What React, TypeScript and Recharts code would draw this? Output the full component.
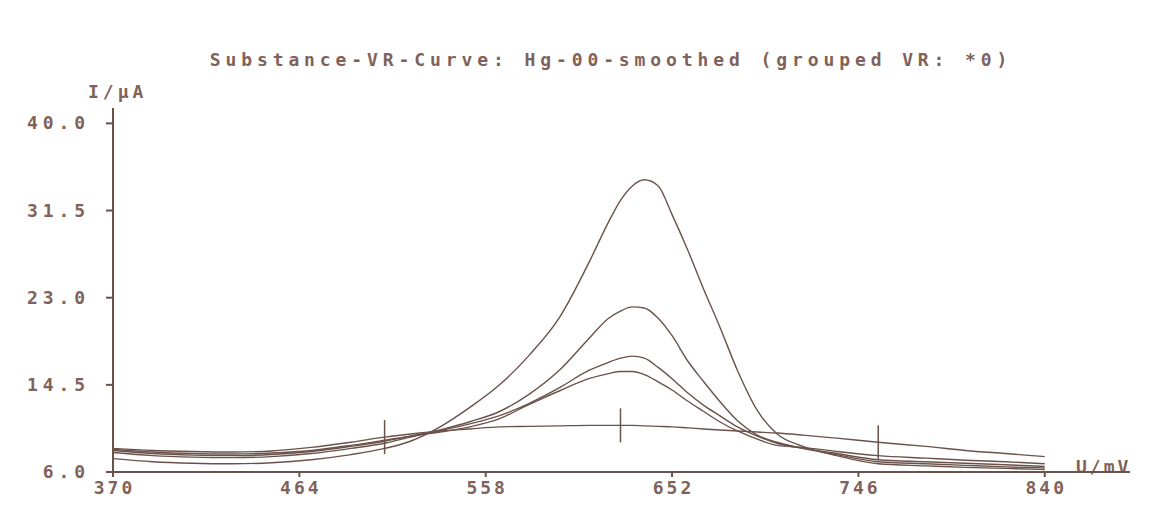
import React from 'react';
import { LineChart, Line, XAxis, YAxis } from 'recharts';

// potentials (mV) shared by all curves
const voltages = [370, 390, 410, 430, 450, 470, 490, 507, 520, 535, 550, 565, 580, 595, 610, 620, 626, 632, 638, 645, 652, 660, 668, 676, 685, 695, 705, 718, 735, 756, 780, 800, 820, 840];

// currents (µA), one array per recorded curve
const curveA = [7.3, 7.0, 6.85, 6.8, 6.9, 7.2, 7.7, 8.3, 9.0, 10.4, 12.3, 14.5, 17.4, 21.0, 26.4, 30.4, 32.5, 33.9, 34.5, 33.9, 31.1, 27.6, 23.8, 20.2, 15.9, 12.0, 9.7, 8.5, 7.6, 6.8, 6.6, 6.45, 6.35, 6.25];
const curveB = [7.9, 7.6, 7.45, 7.4, 7.5, 7.8, 8.3, 8.8, 9.4, 10.1, 10.9, 11.9, 13.6, 15.9, 19.0, 21.0, 21.7, 22.1, 22.0, 21.0, 19.3, 16.8, 14.8, 12.9, 11.0, 9.6, 8.9, 8.3, 7.7, 7.0, 6.8, 6.65, 6.5, 6.4];
const curveC = [8.1, 7.8, 7.65, 7.6, 7.7, 8.0, 8.5, 9.0, 9.5, 10.05, 10.7, 11.5, 12.7, 14.2, 15.9, 16.7, 17.1, 17.3, 17.1, 16.2, 15.1, 13.7, 12.5, 11.5, 10.4, 9.5, 8.8, 8.3, 7.8, 7.2, 7.0, 6.85, 6.7, 6.55];
const curveD = [8.2, 7.95, 7.8, 7.75, 7.85, 8.1, 8.6, 9.1, 9.5, 9.9, 10.4, 11.2, 12.6, 13.9, 15.1, 15.6, 15.8, 15.8, 15.5, 14.8, 14.0, 12.9, 11.9, 10.9, 10.0, 9.2, 8.6, 8.4, 8.0, 7.6, 7.35, 7.15, 7.0, 6.8];
const curveE = [8.3, 8.1, 8.0, 7.95, 8.05, 8.4, 8.9, 9.4, 9.7, 10.0, 10.2, 10.4, 10.45, 10.5, 10.55, 10.55, 10.55, 10.55, 10.5, 10.45, 10.4, 10.3, 10.2, 10.1, 10.0, 9.9, 9.8, 9.6, 9.3, 8.9, 8.5, 8.1, 7.8, 7.5];

// evaluation markers on the flat curve
const markers = [507, 626, 756];

const xTicks = [370, 464, 558, 652, 746, 840];
const yTicks = [6.0, 14.5, 23.0, 31.5, 40.0];

const rows = voltages.map((u, i) => ({
  u,
  a: curveA[i],
  b: curveB[i],
  c: curveC[i],
  d: curveD[i],
  e: curveE[i],
}));

const INK = '#6a524b';
const TEXT = '#80625a';
const font = { fontFamily: '"DejaVu Sans Mono", monospace', fontWeight: 700, fontSize: 18, letterSpacing: 4.9 };

const XTick = (props: any) => {
  const { x, y, payload } = props;
  return (
    <text x={x + 1.5} y={y} dy={13} textAnchor="middle" fill={TEXT} style={{ ...font, letterSpacing: 3 }}>
      {payload.value}
    </text>
  );
};

const YTick = (props: any) => {
  const { x, y, payload } = props;
  return (
    <text x={x + 4} y={y} dy={6} textAnchor="end" fill={TEXT} style={font}>
      {Number(payload.value).toFixed(1)}
    </text>
  );
};

const MarkerDot = (props: any) => {
  const { cx, cy, payload, index } = props;
  if (cx === undefined || cy === undefined || !markers.includes(payload.u)) {
    return <g key={`m-${index}`} />;
  }
  return <line key={`m-${index}`} x1={cx} x2={cx} y1={cy - 17} y2={cy + 17} stroke={INK} strokeWidth={1.5} />;
};

export default function App() {
  return (
    <div style={{ margin: -8, width: 1152, height: 520, background: '#fff', position: 'relative' }}>
      <LineChart
        width={1152}
        height={520}
        data={rows}
        margin={{ top: 108, right: 22, bottom: 18, left: 13 }}
      >
        <XAxis
          dataKey="u"
          type="number"
          domain={[370, 883]}
          ticks={xTicks}
          allowDataOverflow
          height={30}
          stroke={INK}
          strokeWidth={2}
          tickSize={5}
          tickMargin={4}
          tick={<XTick />}
        />
        <YAxis
          type="number"
          domain={[6, 41.5]}
          ticks={yTicks}
          allowDataOverflow
          width={100}
          stroke={INK}
          strokeWidth={2}
          tickSize={7}
          tickMargin={20}
          tick={<YTick />}
        />
        <Line dataKey="a" type="monotone" stroke={INK} strokeWidth={1.4} dot={false} isAnimationActive={false} />
        <Line dataKey="b" type="monotone" stroke={INK} strokeWidth={1.4} dot={false} isAnimationActive={false} />
        <Line dataKey="c" type="monotone" stroke={INK} strokeWidth={1.4} dot={false} isAnimationActive={false} />
        <Line dataKey="d" type="monotone" stroke={INK} strokeWidth={1.4} dot={false} isAnimationActive={false} />
        <Line dataKey="e" type="monotone" stroke={INK} strokeWidth={1.4} dot={(p: any) => <MarkerDot {...p} />} isAnimationActive={false} />
        <text x={611} y={66} textAnchor="middle" fill={TEXT} style={font}>
          Substance-VR-Curve: Hg-00-smoothed (grouped VR: *0)
        </text>
        <text x={88} y={98} fill={TEXT} style={{ ...font, letterSpacing: 4 }}>
          I/µA
        </text>
        <text x={1076} y={473} fill={TEXT} style={{ ...font, letterSpacing: 3 }}>
          U/mV
        </text>
      </LineChart>
    </div>
  );
}
